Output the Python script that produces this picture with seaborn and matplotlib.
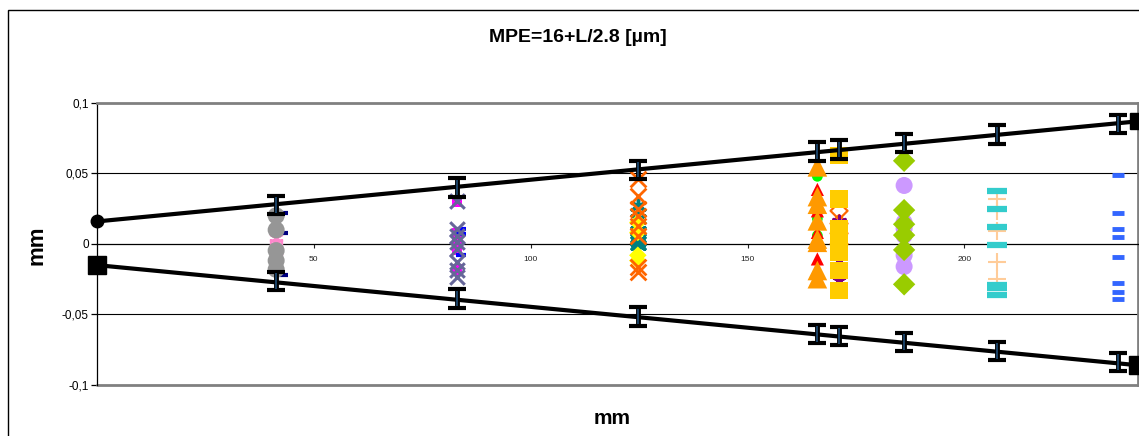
import matplotlib
matplotlib.use("Agg")
import matplotlib.pyplot as plt
import seaborn as sns
from matplotlib.patches import Rectangle

# MPE limit lines (mm)
mpe_x = [0, 240]
mpe_upper = [0.016, 0.087]
mpe_lower = [-0.015, -0.086]

# error bars sitting on the MPE lines
bar_x = [41.3, 83.0, 124.7, 166.1, 171.1, 186.1, 207.6, 235.5]
bar_upper = [0.0275, 0.040, 0.0527, 0.0656, 0.0669, 0.0715, 0.0777, 0.0853]
bar_lower = [-0.0263, -0.0387, -0.0515, -0.064, -0.0651, -0.0696, -0.0759, -0.0836]
bar_err = 0.0065

# measured deviations per length
grey_circles = [0.020, 0.010, -0.0047, -0.0118, -0.018]
pink_asterisks = [0.004, 0.001, -0.002, -0.005]
navy_dashes = [0.022, 0.008, -0.022]
magenta_squares = [0.030, 0.008, 0.002, -0.004, -0.018]
blue_dashes_83 = [0.0106, 0.007, -0.0077]
slate_crosses = [0.0305, 0.0106, 0.0059, 0.0012, -0.0035, -0.0129, -0.0188, -0.0235]
teal_asterisks = [0.027, 0.0176, 0.0094, 0.0023, -0.001]
yellow_diamonds = [0.0153, 0.0082, -0.008, -0.0118]
orange_crosses = [0.0458, 0.034, 0.0246, 0.020, 0.0129, 0.0059, -0.0164, -0.020]
green_circles = [0.048, 0.018, 0.006]
red_triangles = [0.0387, 0.0235, 0.0082, -0.0106]
orange_triangles = [0.0547, 0.0336, 0.0282, 0.0164, 0.0035, 0.0012, -0.0188, -0.0246]
orange_open_diamonds = [0.0235, 0.0145, 0.0075, 0.0]
purple_asterisks = [0.0153, -0.012, -0.026]
gold_squares = [0.0627, 0.032, 0.011, 0.007, 0.0012, -0.006, -0.0188, -0.033]
lavender_circles = [0.0415, 0.0153, 0.011, 0.006, -0.008, -0.016]
lime_diamonds = [0.059, 0.024, 0.014, 0.0063, -0.0042, -0.0286]
peach_plus = [0.0317, 0.0235, 0.0094, -0.0129, -0.0246]
turquoise_dashes = [0.0376, 0.0246, 0.0117, -0.0007, -0.029, -0.031, -0.036]
blue_dashes = [0.0486, 0.0218, 0.0106, 0.0052, -0.0089, -0.0275, -0.034, -0.0387]

yticks = [-0.1, -0.05, 0, 0.05, 0.1]
ytick_labels = ["-0,1", "-0,05", "0", "0,05", "0,1"]
xticks = [50, 100, 150, 200]

sns.set_style("white")
plt.rcParams["font.family"] = ["Liberation Sans", "DejaVu Sans"]
plt.rcParams["text.color"] = "black"

fig = plt.figure(figsize=(11.39, 4.36), dpi=100)
ax = fig.add_axes([0.0852, 0.117, 0.9138, 0.6468])

# (y values, x position, marker, colour, size, linewidth, filled)
series = [
    (pink_asterisks, bar_x[0], (6, 2, 0), "#ff88cc", 90, 1.5, False),
    (navy_dashes, bar_x[0] + 1.5, "_", "#000080", 50, 3, False),
    (grey_circles, bar_x[0], "o", "#969696", 150, 0, True),
    (magenta_squares, bar_x[1], "s", "#ff00ff", 55, 0, True),
    (blue_dashes_83, bar_x[1] + 1, "_", "#0000ff", 50, 3, False),
    (slate_crosses, bar_x[1], "x", "#666699", 110, 2.2, False),
    (teal_asterisks, bar_x[2], (6, 2, 0), "#008080", 110, 2.5, False),
    (yellow_diamonds, bar_x[2], "D", "#ffff00", 80, 0, True),
    (orange_crosses, bar_x[2], "x", "#ff6600", 130, 2, False),
    (green_circles, bar_x[3], "o", "#00ff00", 60, 0, True),
    (red_triangles, bar_x[3], "^", "#ff0000", 90, 0, True),
    (orange_triangles, bar_x[3], "^", "#ff9900", 200, 0, True),
    (purple_asterisks, bar_x[4], (6, 2, 0), "#800080", 90, 2, False),
    (gold_squares, bar_x[4], "s", "#ffcc00", 160, 0, True),
    (lavender_circles, bar_x[5], "o", "#cc99ff", 150, 0, True),
    (lime_diamonds, bar_x[5], "D", "#99cc00", 130, 0, True),
    (peach_plus, bar_x[6], "+", "#ffcc99", 150, 1.5, False),
    (turquoise_dashes, bar_x[6], "_", "#33cccc", 190, 4.5, False),
    (blue_dashes, bar_x[7], "_", "#3366ff", 70, 3.5, False),
]

for ys, xpos, mk, col, size, lw, filled in series:
    xs = [xpos] * len(ys)
    if filled:
        sns.scatterplot(x=xs, y=ys, marker=mk, color=col, s=size,
                        edgecolor="none", linewidth=0, ax=ax, zorder=3)
    else:
        sns.scatterplot(x=xs, y=ys, marker=mk, color=col, s=size,
                        linewidth=lw, ax=ax, zorder=3)

# open orange diamonds, drawn under the gold squares
sns.scatterplot(x=[bar_x[4]] * len(orange_open_diamonds), y=orange_open_diamonds,
                marker="D", s=75, facecolor="none", edgecolor="#ff6600",
                linewidth=1.6, ax=ax, zorder=2.9)

# MPE lines
ax.plot(mpe_x, mpe_upper, color="black", lw=3, zorder=5)
ax.plot(mpe_x, mpe_lower, color="black", lw=3, zorder=5)
ax.plot([mpe_x[0]], [mpe_upper[0]], "o", color="black", ms=9, clip_on=False, zorder=6)
ax.plot([mpe_x[1]], [mpe_upper[1]], "s", color="black", ms=11, clip_on=False, zorder=6)
ax.plot([mpe_x[0]], [mpe_lower[0]], "s", color="black", ms=13, clip_on=False, zorder=6)
ax.plot([mpe_x[1]], [mpe_lower[1]], "s", color="black", ms=13, clip_on=False, zorder=6)

# error bars: black caps, navy stem
for centers in (bar_upper, bar_lower):
    ax.errorbar(bar_x, centers, yerr=bar_err, fmt="none", ecolor="black",
                elinewidth=3.5, capsize=6.5, capthick=3, zorder=7)
    ax.errorbar(bar_x, centers, yerr=bar_err * 0.85, fmt="none", ecolor="#1f4e79",
                elinewidth=1.2, capsize=0, zorder=8)

ax.set_xlim(0, 240)
ax.set_ylim(-0.1, 0.1)

# grid lines at +/-0.05
for gy in (0.05, -0.05):
    ax.axhline(gy, color="black", lw=0.8, zorder=1)

# plot-area frame
for side in ("top", "right"):
    ax.spines[side].set_color("#808080")
    ax.spines[side].set_linewidth(2)
ax.spines["left"].set_color("black")
ax.spines["left"].set_linewidth(0.9)
ax.spines["bottom"].set_position(("data", 0))
ax.spines["bottom"].set_color("black")
ax.spines["bottom"].set_linewidth(0.9)
ax.axhline(-0.1, color="#808080", lw=2, clip_on=False, zorder=1)

ax.set_yticks(yticks)
ax.set_yticklabels(ytick_labels)
ax.set_xticks(xticks)
ax.set_xticklabels([str(t) for t in xticks])
ax.tick_params(axis="y", direction="out", length=4, width=0.9, labelsize=8.5,
               left=True, pad=2, colors="black")
ax.tick_params(axis="x", direction="out", length=3, width=0.8, labelsize=6,
               bottom=True, pad=6, colors="#222222")

# labels
fig.text(0.507, 1 - 38 / 436, "MPE=16+L/2.8 [µm]", ha="center", va="center",
         fontsize=14, fontweight="bold", color="black")
fig.text(37 / 1139, 1 - 245 / 436, "mm", ha="center", va="center", rotation=90,
         fontsize=16, fontweight="bold", color="black")
fig.text(612 / 1139, 1 - 418 / 436, "mm", ha="center", va="center",
         fontsize=15, fontweight="bold", color="black")

# chart-area border
fig.patches.append(Rectangle((8 / 1139, -0.05), 1.2, 1 - 10 / 436 + 0.05,
                             transform=fig.transFigure, fill=False,
                             edgecolor="black", lw=1))

fig.savefig("out.png", dpi=100)
